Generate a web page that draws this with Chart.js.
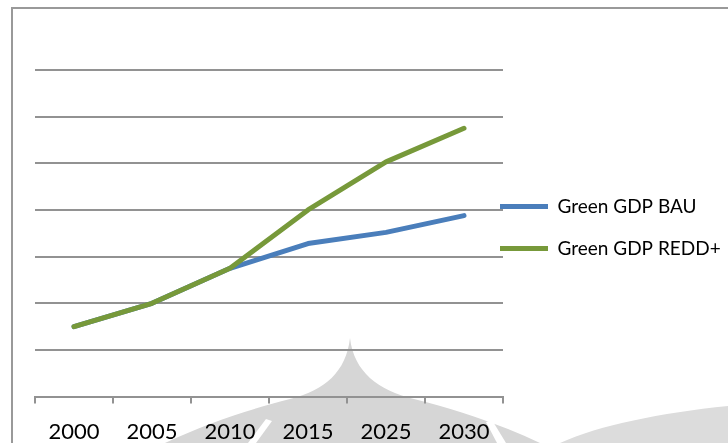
<!DOCTYPE html>
<html>
<head>
<meta charset="utf-8">
<script src="https://cdn.jsdelivr.net/npm/chart.js@4.4.0/dist/chart.umd.min.js"></script>
<style>
  html, body { margin: 0; padding: 0; background: #fff; overflow: hidden; }
  #escena { position: relative; width: 728px; height: 443px; overflow: hidden; }
  #marca, #marco, #grafico { position: absolute; left: 0; top: 0; }
  #marco { left: 11px; top: 7px; width: 800px; height: 500px; border: 2px solid #999; }
</style>
</head>
<body>
<div id="escena">
  <!-- sello gris de fondo -->
  <svg id="marca" width="728" height="443">
    <path d="M350,338 C346,372 325,390 290,399 C250,409 205,424 165,443 L540,443 C500,424 455,409 414,399 C378,390 354,372 350,338 Z" fill="#d6d6d6"/>
    <path d="M248,443 L256,443 L272,421 L266,419 Z" fill="#fff"/>
    <path d="M497,443 L506,443 L492,420 L486,422 Z" fill="#fff"/>
    <path d="M560,443 C600,425 660,413 728,406 L728,443 Z" fill="#dcdcdc"/>
  </svg>
  <div id="marco"></div>
  <canvas id="grafico" width="728" height="460"></canvas>
</div>
<script>
// Green GDP: escenario BAU vs REDD+
var anios = ['2000', '2005', '2010', '2015', '2025', '2030'];
var gdpBAU = [1.5, 2.0, 2.75, 3.28, 3.52, 3.88];
var gdpREDD = [1.5, 2.0, 2.75, 4.0, 5.03, 5.75];
var yMin = 0;
var yMax = 7;
var yPaso = 1;

var gris = '#929292';

// la leyenda va pegada al final de las lineas de la rejilla
var moverLeyenda = {
    id: 'moverLeyenda',
    afterLayout: function (chart) {
        var ley = chart.legend;
        var pad = ley.options.labels.padding;
        ley.left = chart.chartArea.right - 3 - pad;
        ley.right = chart.width;
        ley.top = chart.chartArea.top + 104;
        ley.bottom = chart.height;
    }
};

var contexto = document.getElementById('grafico').getContext('2d');
var chartGDP = new Chart(contexto, {
    type: 'line',
    data: {
        labels: anios,
        datasets: [{
            label: 'Green GDP BAU',
            data: gdpBAU,
            borderColor: '#4a7ebb',
            backgroundColor: '#4a7ebb',
            borderWidth: 5,
            order: 1
        }, {
            label: 'Green GDP REDD+',
            data: gdpREDD,
            borderColor: '#77993a',
            backgroundColor: '#77993a',
            borderWidth: 5,
            order: 0
        }]
    },
    options: {
        responsive: false,
        animation: false,
        layout: {
            padding: { left: 35, top: 70, right: 0, bottom: 0 }
        },
        elements: {
            point: { radius: 0, hoverRadius: 0 },
            line: { tension: 0, borderCapStyle: 'round', borderJoinStyle: 'round' }
        },
        plugins: {
            tooltip: { enabled: false },
            legend: {
                position: 'right',
                align: 'start',
                maxWidth: 225,
                labels: {
                    usePointStyle: true,
                    pointStyle: 'line',
                    pointStyleWidth: 48,
                    padding: 23,
                    color: '#000',
                    font: { family: 'Lato', size: 19 },
                    sort: function (a, b) { return a.datasetIndex - b.datasetIndex; }
                }
            }
        },
        scales: {
            x: {
                offset: true,
                grid: {
                    offset: true,
                    drawOnChartArea: false,
                    drawTicks: true,
                    tickLength: 7,
                    color: gris,
                    lineWidth: 2
                },
                border: { display: true, color: gris, width: 2 },
                ticks: {
                    color: '#000',
                    padding: 15,
                    maxRotation: 0,
                    autoSkip: false,
                    font: { family: 'Lato', size: 22 }
                }
            },
            y: {
                min: yMin,
                max: yMax,
                grid: { color: gris, lineWidth: 2, drawTicks: false },
                border: { display: false },
                ticks: { display: false, stepSize: yPaso }
            }
        }
    },
    plugins: [moverLeyenda]
});
</script>
</body>
</html>
